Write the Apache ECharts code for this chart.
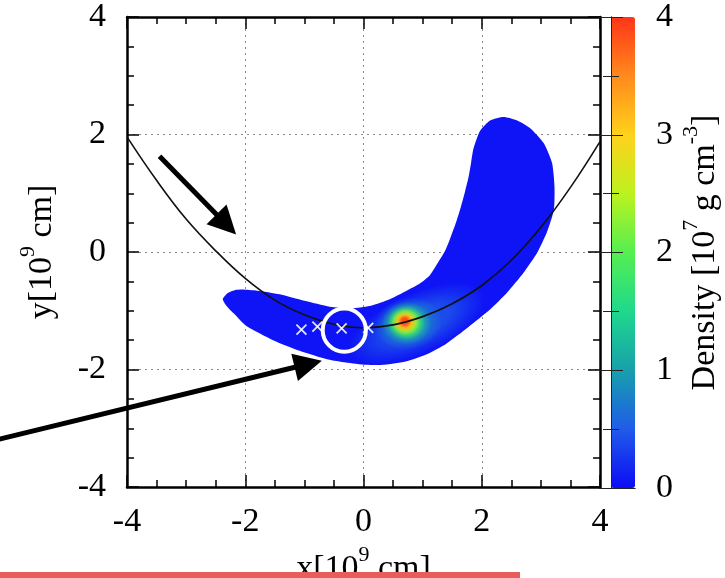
<!DOCTYPE html>
<html>
<head>
<meta charset="utf-8">
<script src="https://cdn.jsdelivr.net/npm/echarts@6/dist/echarts.min.js"></script>
<style>
  html, body { margin: 0; padding: 0; background: #ffffff; }
  #chart { width: 725px; height: 578px; }
</style>
</head>
<body>
<div id="chart"></div>
<script>
// ---- axes ----
const xRange = [-4, 4];
const yRange = [-4, 4];
const axisStep = 2;
const densityRange = [0, 4];
const densityStep = 1;

// ---- density field: crescent outline (low-density envelope) ----
const blobDensity = 0.05;
const blobX = [-2.38, -2.30, -2.18, -2.05, -1.80, -1.42, -1.00, -0.57, -0.20, 0.10, 0.40, 0.65, 0.96,
               1.12, 1.26, 1.38, 1.48, 1.57, 1.65, 1.72, 1.78, 1.82, 1.86, 1.97, 2.14, 2.37, 2.60, 2.83,
               3.05, 3.19, 3.23, 3.22, 3.10, 2.94, 2.71, 2.43, 2.14, 1.77, 1.40, 1.05, 0.73, 0.35, 0.05,
               -0.30, -0.60, -1.08, -1.53, -1.98, -2.20, -2.33];
const blobY = [-0.80, -0.70, -0.65, -0.64, -0.66, -0.72, -0.83, -0.93, -0.96, -0.92, -0.82, -0.70, -0.53,
               -0.40, -0.18, 0.02, 0.27, 0.52, 0.78, 1.04, 1.29, 1.52, 1.76, 2.06, 2.24, 2.30, 2.24, 2.10,
               1.85, 1.51, 1.12, 0.72, 0.33, -0.01, -0.35, -0.69, -0.98, -1.28, -1.56, -1.75, -1.86, -1.92, -1.92,
               -1.88, -1.83, -1.68, -1.50, -1.26, -1.04, -0.90];

// ---- density field: nested levels around the dense knot ----
const knotDensity = [0.4, 0.75, 1.3, 2.0, 2.7, 3.3, 3.85];
const knotX       = [0.90, 0.76, 0.73, 0.72, 0.71, 0.70, 0.70];
const knotY       = [-1.22, -1.22, -1.21, -1.20, -1.19, -1.19, -1.18];
const knotRx      = [1.25, 0.58, 0.42, 0.32, 0.25, 0.18, 0.11];
const knotRy      = [0.52, 0.44, 0.36, 0.29, 0.23, 0.17, 0.11];
const knotTilt    = [24, 12, 0, 0, 0, 0, 0];

// ---- orbit ----
const orbitX = [-4, -3.5, -3, -2.5, -2, -1.5, -1, -0.5, 0, 0.5, 1, 1.5, 2, 2.5, 3, 3.5, 4];
const orbitY = [1.96, 1.22, 0.56, 0.02, -0.45, -0.82, -1.07, -1.23, -1.29, -1.24, -1.10, -0.88,
                -0.57, -0.14, 0.42, 1.10, 1.88];

// ---- markers ----
const markX = [-1.05, -0.78, -0.37, 0.08];
const markY = [-1.32, -1.27, -1.30, -1.29];
const ringX = [-0.325];
const ringY = [-1.33];
const ringR = 0.365;

// ---- arrows ----
const arrowTailX = [-3.45, -6.30];
const arrowTailY = [1.63, -3.22];
const arrowTipX  = [-2.32, -0.935];
const arrowTipY  = [0.47, -1.907];

const palette = ['#0c0cf6', '#1f5ce8', '#17a0ac', '#1fd88c', '#55ef50',
                 '#bdf21e', '#ffd21c', '#ff8a1c', '#ff3418'];

const serif = '"Liberation Serif", "Times New Roman", serif';
const black = '#000000';

const nameStyle = {
  fontFamily: serif, fontSize: 34, color: black, lineHeight: 50,
  rich: {
    t: { fontFamily: serif, fontSize: 34, color: black, lineHeight: 50 },
    sup: { fontFamily: serif, fontSize: 22, color: black, lineHeight: 22, verticalAlign: 'top' }
  }
};

function frameAxis(extra) {
  return Object.assign({
    type: 'value',
    axisLine: { show: true, onZero: false, lineStyle: { color: black, width: 2.5 } },
    axisTick: { show: true, inside: true, length: 12, lineStyle: { color: black, width: 1.5 } },
    minorTick: { show: true, splitNumber: 4, length: 7, lineStyle: { color: black, width: 1.5 } },
    axisLabel: { show: false },
    splitLine: { show: false }
  }, extra);
}

const gridLines = { show: true, lineStyle: { color: '#8a8a8a', width: 1, type: [2, 4] } };
function tickLabel(margin) {
  return {
    show: true, margin: margin, fontFamily: serif, fontSize: 34, color: black,
    formatter: '{n|{value}}',
    rich: { n: { fontFamily: serif, fontSize: 34, color: black } }
  };
}

function cbAxis(extra) {
  return Object.assign({
    type: 'value', gridIndex: 1, min: densityRange[0], max: densityRange[1], interval: densityStep, z: 10,
    axisLine: { show: true, lineStyle: { color: '#222', width: 1 } },
    axisTick: { show: true, inside: true, length: 12, lineStyle: { color: '#222', width: 1 } },
    minorTick: { show: true, splitNumber: 2, length: 8, lineStyle: { color: '#222', width: 1 } },
    axisLabel: { show: false },
    splitLine: { show: false }
  }, extra);
}

function renderDensity(params, api) {
  const k = api.value(0);
  const color = api.visual('color');
  if (k === 0) {
    const pts = blobX.map((x, i) => api.coord([x, blobY[i]]));
    return { type: 'polygon', shape: { points: pts, smooth: 0.2 }, style: { fill: color } };
  }
  const i = k - 1;
  const c = api.coord([knotX[i], knotY[i]]);
  const s = api.size([knotRx[i], knotRy[i]]);
  const clear = echarts.color.modifyAlpha(color, 0);
  return {
    type: 'circle',
    x: c[0], y: c[1], scaleX: s[0], scaleY: s[1],
    rotation: knotTilt[i] * Math.PI / 180,
    shape: { cx: 0, cy: 0, r: 1 },
    style: {
      fill: {
        type: 'radial', x: 0.5, y: 0.5, r: 0.5,
        colorStops: [
          { offset: 0, color: color },
          { offset: 0.45, color: color },
          { offset: 1, color: clear }
        ]
      }
    }
  };
}

function renderMark(params, api) {
  const p = api.coord([api.value(0), api.value(1)]);
  const h = 5;
  const st = { stroke: 'rgba(255,255,255,0.88)', lineWidth: 1.8 };
  return {
    type: 'group',
    children: [
      { type: 'line', shape: { x1: p[0] - h, y1: p[1] - h, x2: p[0] + h, y2: p[1] + h }, style: st },
      { type: 'line', shape: { x1: p[0] - h, y1: p[1] + h, x2: p[0] + h, y2: p[1] - h }, style: st }
    ]
  };
}

function renderRing(params, api) {
  const p = api.coord([api.value(0), api.value(1)]);
  const r = api.size([ringR, 0])[0];
  return { type: 'circle', shape: { cx: p[0], cy: p[1], r: r }, style: { fill: 'none', stroke: '#ffffff', lineWidth: 4 } };
}

const densityData = [[0, blobDensity]].concat(knotDensity.map((v, i) => [i + 1, v]));

const option = {
  backgroundColor: '#ffffff',
  animation: false,
  textStyle: { fontFamily: serif },
  grid: [
    { left: 127, top: 17, width: 473, height: 470, containLabel: false, outerBoundsMode: 'none' },
    { left: 611, top: 17, width: 24, height: 471, containLabel: false, outerBoundsMode: 'none' }
  ],
  xAxis: [
    frameAxis({
      gridIndex: 0, position: 'bottom', min: xRange[0], max: xRange[1], interval: axisStep,
      axisLabel: tickLabel(18),
      splitLine: gridLines,
      name: '{t|x[10}{sup|9}{t| cm]}', nameLocation: 'middle', nameGap: 51, nameTextStyle: nameStyle
    }),
    frameAxis({ gridIndex: 0, position: 'top', min: xRange[0], max: xRange[1], interval: axisStep }),
    { type: 'value', gridIndex: 1, position: 'bottom', min: 0, max: 1, z: 10,
      axisLine: { show: true, lineStyle: { color: '#222', width: 1 } },
      axisTick: { show: false }, axisLabel: { show: false }, splitLine: { show: false } },
    { type: 'value', gridIndex: 1, position: 'top', min: 0, max: 1, z: 10,
      axisLine: { show: true, lineStyle: { color: '#222', width: 1 } },
      axisTick: { show: false }, axisLabel: { show: false }, splitLine: { show: false } }
  ],
  yAxis: [
    frameAxis({
      gridIndex: 0, position: 'left', min: yRange[0], max: yRange[1], interval: axisStep,
      axisLabel: tickLabel(21),
      splitLine: gridLines,
      name: '{t|y[10}{sup|9}{t| cm]}', nameLocation: 'middle', nameRotate: 90, nameGap: 55,
      nameTextStyle: nameStyle
    }),
    frameAxis({ gridIndex: 0, position: 'right', min: yRange[0], max: yRange[1], interval: axisStep }),
    cbAxis({ position: 'left' }),
    cbAxis({
      position: 'right',
      axisLabel: tickLabel(21),
      name: '{t|Density [10}{sup|7}{t| g cm}{sup|-3}{t|]}', nameLocation: 'middle', nameRotate: 90,
      nameGap: 45, nameTextStyle: nameStyle
    })
  ],
  visualMap: {
    type: 'continuous', min: densityRange[0], max: densityRange[1], seriesIndex: 0, dimension: 1,
    calculable: false, hoverLink: false, text: null, padding: 0,
    left: 611, top: 17, itemWidth: 24, itemHeight: 471,
    inRange: { color: palette }
  },
  series: [
    {
      type: 'custom', name: 'density', xAxisIndex: 0, yAxisIndex: 0, silent: true, z: 2,
      renderItem: renderDensity, data: densityData
    },
    {
      type: 'line', name: 'orbit', xAxisIndex: 0, yAxisIndex: 0, silent: true, z: 3,
      data: orbitX.map((x, i) => [x, orbitY[i]]), smooth: 0.4, showSymbol: false, symbol: 'none',
      lineStyle: { color: '#111111', width: 1.6 }
    },
    {
      type: 'custom', name: 'marks', xAxisIndex: 0, yAxisIndex: 0, silent: true, z: 4,
      renderItem: renderMark, data: markX.map((x, i) => [x, markY[i]])
    },
    {
      type: 'custom', name: 'ring', xAxisIndex: 0, yAxisIndex: 0, silent: true, z: 5,
      renderItem: renderRing, data: ringX.map((x, i) => [x, ringY[i]])
    },
    {
      type: 'lines', name: 'arrows', coordinateSystem: 'cartesian2d', xAxisIndex: 0, yAxisIndex: 0,
      silent: true, clip: false, z: 6,
      symbol: ['none', 'triangle'], symbolSize: [25, 28],
      lineStyle: { color: black, width: 5, opacity: 1, curveness: 0 },
      itemStyle: { color: black },
      data: arrowTailX.map((x, i) => ({ coords: [[x, arrowTailY[i]], [arrowTipX[i], arrowTipY[i]]] }))
    }
  ],
  graphic: [
    { type: 'rect', left: 0, top: 572, z: 100, shape: { width: 520, height: 6 }, style: { fill: '#e85d57' } }
  ]
};

const chart = echarts.init(document.getElementById('chart'), null, { renderer: 'canvas' });
chart.setOption(option);
</script>
</body>
</html>
